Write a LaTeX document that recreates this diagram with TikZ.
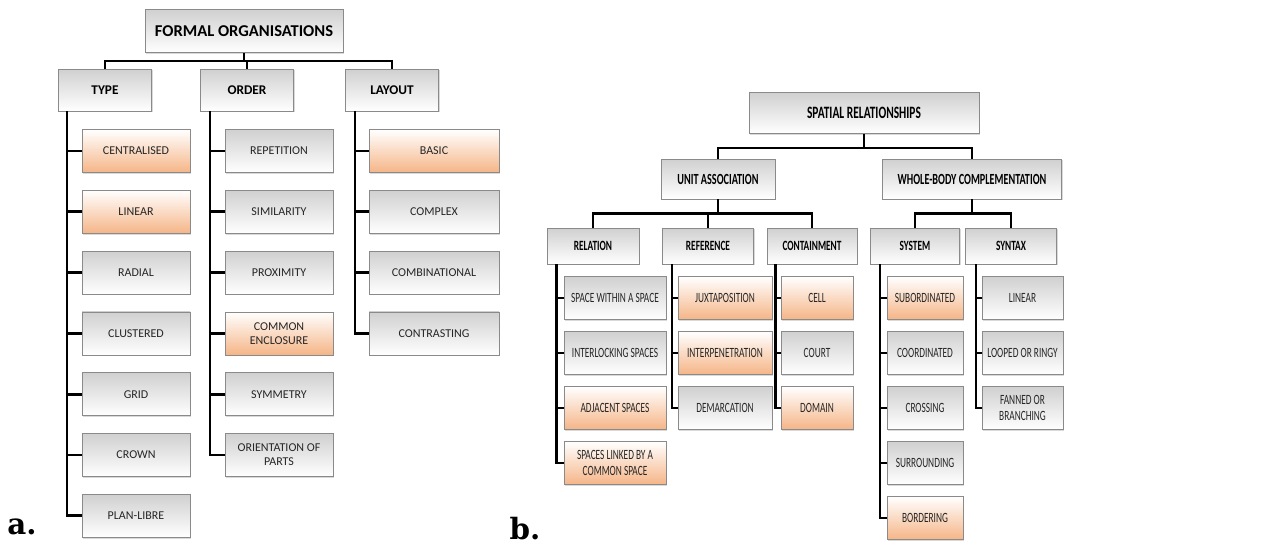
\documentclass[tikz,border=0pt]{standalone}
\usepackage{fontspec}
\setmainfont{Carlito}
\newfontfamily\condfont{Carlito}[FakeStretch=0.66]
\newfontfamily\labfont{DejaVu Serif}
\usetikzlibrary{shadows}

\definecolor{boxgrey}{HTML}{D0D0D0}
\definecolor{boxorange}{HTML}{F5B587}
\definecolor{boxline}{HTML}{8A8A8A}
\definecolor{boxtext}{HTML}{262626}

\tikzset{
  box/.style={rectangle, draw=boxline, line width=0.6pt, align=center, inner sep=1pt,
    text=boxtext, drop shadow={shadow xshift=0.9pt, shadow yshift=-0.9pt, opacity=0.3}},
  greybox/.style={box, top color=boxgrey, bottom color=white},
  orangebox/.style={box, top color=white, bottom color=boxorange},
  link/.style={line width=2pt, black},
  % part a
  headA/.style={greybox, text=black, font=\bfseries\fontsize{12.4}{14}\selectfont},
  groupA/.style={greybox, text=black, minimum width=69.75pt, minimum height=31.5pt,
    font=\bfseries\fontsize{10}{12}\selectfont},
  itemA/.style={minimum height=32.25pt, font=\fontsize{9}{10.4}\selectfont},
  % part b
  headB/.style={greybox, text=black, font=\condfont\bfseries\fontsize{13}{15}\selectfont},
  groupB/.style={greybox, text=black, minimum height=30pt, font=\condfont\bfseries\fontsize{11.6}{13}\selectfont},
  subB/.style={greybox, text=black, minimum height=27pt, font=\condfont\bfseries\fontsize{10.6}{12}\selectfont},
  itemB/.style={minimum height=32.25pt, font=\condfont\fontsize{10.6}{12.4}\selectfont},
  tag/.style={font=\labfont\bfseries\fontsize{22}{24}\selectfont}
}

\begin{document}
\begin{tikzpicture}[x=0.75pt,y=-0.75pt]
\useasboundingbox (0,0) rectangle (1285,547);

% a. formal organisations
\node[headA, minimum width=148.5pt, minimum height=32.25pt] (fo) at (244,31) {FORMAL ORGANISATIONS};
\node[groupA] (type) at (105,90) {TYPE};
\node[groupA] (order) at (247,90) {ORDER};
\node[groupA] (layout) at (392,90) {LAYOUT};
\foreach \n in {type,order,layout}{\draw[link] (fo.south) -- ++(0,8) -| (\n.north);}

\foreach \lbl/\sty [count=\i] in {CENTRALISED/orangebox, LINEAR/orangebox, RADIAL/greybox,
    CLUSTERED/greybox, GRID/greybox, CROWN/greybox, PLAN-LIBRE/greybox}{
  \node[\sty, itemA, minimum width=81pt] (t\i) at (136,{151+60.8*(\i-1)}) {\lbl};
  \draw[link] ([xshift=6.75pt]type.south west) |- (t\i.west);
}
\foreach \lbl/\sty [count=\i] in {REPETITION/greybox, SIMILARITY/greybox, PROXIMITY/greybox,
    {COMMON\\ENCLOSURE}/orangebox, SYMMETRY/greybox, {ORIENTATION OF\\PARTS}/greybox}{
  \node[\sty, itemA, minimum width=81pt] (o\i) at (279,{151+60.8*(\i-1)}) {\lbl};
  \draw[link] ([xshift=7.5pt]order.south west) |- (o\i.west);
}
\foreach \lbl/\sty [count=\i] in {BASIC/orangebox, COMPLEX/greybox, COMBINATIONAL/greybox,
    CONTRASTING/greybox}{
  \node[\sty, itemA, minimum width=97.5pt] (l\i) at (434,{151+60.8*(\i-1)}) {\lbl};
  \draw[link] ([xshift=7.5pt]layout.south west) |- (l\i.west);
}
\node[tag] (taga) at (22,527) {a.};

% b. spatial relationships
\node[headB, minimum width=172.5pt, minimum height=30.75pt] (sr) at (864,113) {SPATIAL RELATIONSHIPS};
\node[groupB, minimum width=85.5pt] (ua) at (718,179) {UNIT ASSOCIATION};
\node[groupB, minimum width=134.25pt] (wb) at (972,179) {WHOLE-BODY COMPLEMENTATION};
\foreach \n in {ua,wb}{\draw[link] (sr.south) -- ++(0,14) -| (\n.north);}

\node[subB, minimum width=69pt] (rel) at (593,246) {RELATION};
\node[subB, minimum width=68.25pt] (ref) at (708,246) {REFERENCE};
\node[subB, minimum width=67.5pt] (con) at (812,246) {CONTAINMENT};
\node[subB, minimum width=66.75pt] (sys) at (915,246) {SYSTEM};
\node[subB, minimum width=68.25pt] (syn) at (1011,246) {SYNTAX};
\foreach \n in {rel,ref,con}{\draw[link] (ua.south) -- ++(0,14) -| (\n.north);}
\foreach \n in {sys,syn}{\draw[link] (wb.south) -- ++(0,14) -| (\n.north);}

\foreach \lbl/\sty [count=\i] in {SPACE WITHIN A SPACE/greybox, INTERLOCKING SPACES/greybox,
    ADJACENT SPACES/orangebox, {SPACES LINKED BY A\\COMMON SPACE}/orangebox}{
  \node[\sty, itemB, minimum width=76.5pt] (rl\i) at (615,{298+55*(\i-1)}) {\lbl};
  \draw[link] ([xshift=7.5pt]rel.south west) |- (rl\i.west);
}
\foreach \lbl/\sty [count=\i] in {JUXTAPOSITION/orangebox, INTERPENETRATION/orangebox,
    DEMARCATION/greybox}{
  \node[\sty, itemB, minimum width=70.5pt] (rf\i) at (725,{298+55*(\i-1)}) {\lbl};
  \draw[link] ([xshift=7.5pt]ref.south west) |- (rf\i.west);
}
\foreach \lbl/\sty [count=\i] in {CELL/orangebox, COURT/greybox, DOMAIN/orangebox}{
  \node[\sty, itemB, minimum width=54pt] (cn\i) at (817,{298+55*(\i-1)}) {\lbl};
  \draw[link] ([xshift=6.75pt]con.south west) |- (cn\i.west);
}
\foreach \lbl/\sty [count=\i] in {SUBORDINATED/orangebox, COORDINATED/greybox, CROSSING/greybox,
    SURROUNDING/greybox, BORDERING/orangebox}{
  \node[\sty, itemB, minimum width=57pt] (sy\i) at (925,{298+55*(\i-1)}) {\lbl};
  \draw[link] ([xshift=7.5pt]sys.south west) |- (sy\i.west);
}
\foreach \lbl/\sty [count=\i] in {LINEAR/greybox, LOOPED OR RINGY/greybox,
    {FANNED OR\\BRANCHING}/greybox}{
  \node[\sty, itemB, minimum width=60.75pt] (sx\i) at (1022.5,{298+55*(\i-1)}) {\lbl};
  \draw[link] ([xshift=8.25pt]syn.south west) |- (sx\i.west);
}
\node[tag] (tagb) at (525,529) {b.};
\end{tikzpicture}
\end{document}
